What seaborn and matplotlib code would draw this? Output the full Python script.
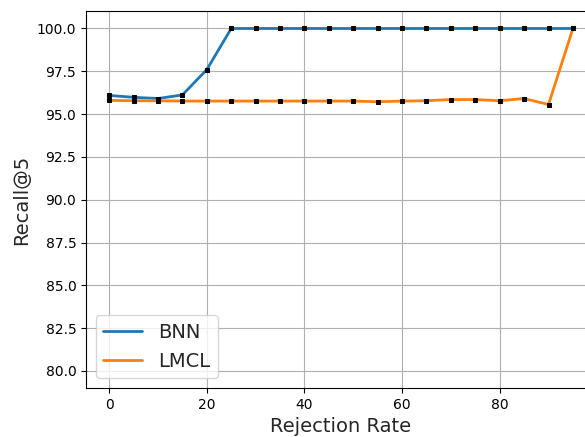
import pandas as pd
import matplotlib
matplotlib.use('Agg')
import matplotlib.pyplot as plt
import seaborn as sns

# rejection rate (%) and recall@5 values for both models
rates = [0, 5, 10, 15, 20, 25, 30, 35, 40, 45, 50, 55, 60, 65, 70, 75, 80, 85, 90, 95]
bnn = [96.09, 95.98, 95.91, 96.12, 97.6, 100, 100, 100, 100, 100,
       100, 100, 100, 100, 100, 100, 100, 100, 100, 100]
lmcl = [95.8, 95.78, 95.78, 95.76, 95.76, 95.76, 95.76, 95.76, 95.76, 95.76,
        95.76, 95.72, 95.76, 95.78, 95.85, 95.85, 95.78, 95.91, 95.56, 100]

df = pd.DataFrame({'rate': rates * 2,
                   'recall': bnn + lmcl,
                   'model': ['BNN'] * len(rates) + ['LMCL'] * len(rates)})

sns.set_style('ticks')
plt.rcParams['font.family'] = ['DejaVu Sans']

fig = plt.figure(figsize=(5.85, 4.37), dpi=100)
ax = fig.add_axes([0.147, 0.112, 0.872, 0.862])

pal = {'BNN': '#1f77b4', 'LMCL': '#ff7f0e'}
sns.lineplot(data=df, x='rate', y='recall', hue='model', palette=pal,
             linewidth=2, marker='s', markersize=3,
             markerfacecolor='black', markeredgecolor='black', ax=ax)

ax.set_ylim(79, 101)
ax.set_xlim(-4.75, 99.75)
ax.set_yticks([80.0, 82.5, 85.0, 87.5, 90.0, 92.5, 95.0, 97.5, 100.0])
ax.set_xticks([0, 20, 40, 60, 80])
ax.grid(True, color='#b0b0b0', linewidth=0.8)
ax.tick_params(labelsize=10, colors='black', length=3.5, width=0.8)
for s in ax.spines.values():
    s.set_color('black')
    s.set_linewidth(0.8)

ax.set_xlabel('Rejection Rate', fontsize=14)
ax.set_ylabel('Recall@5', fontsize=14)

h, l = ax.get_legend_handles_labels()
from matplotlib.lines import Line2D
h = [Line2D([], [], color=pal[k], linewidth=2) for k in l]
ax.legend(h, l, loc='lower left', fontsize=14, frameon=True)

fig.savefig('out.png', dpi=100)
